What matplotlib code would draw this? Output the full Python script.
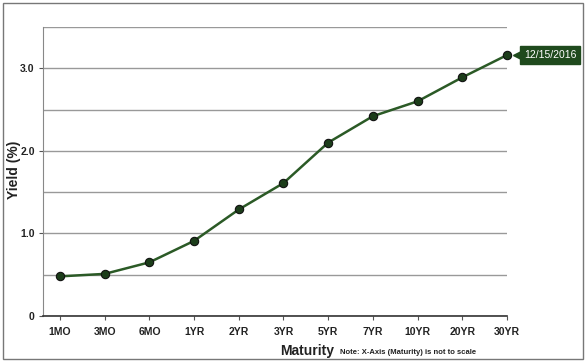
import matplotlib.pyplot as plt
import matplotlib.transforms as mtransforms
from matplotlib.patches import Rectangle
import numpy as np

plt.rcParams['font.family'] = ['Liberation Sans', 'DejaVu Sans']

MATURITIES = ['1MO', '3MO', '6MO', '1YR', '2YR', '3YR', '5YR', '7YR', '10YR', '20YR', '30YR']
YIELDS = [0.48, 0.51, 0.65, 0.91, 1.29, 1.61, 2.10, 2.42, 2.60, 2.89, 3.16]
DATE_LABEL = '12/15/2016'
Y_TICKS = [0, 1.0, 2.0, 3.0]
Y_TICK_LABELS = ['0', '1.0', '2.0', '3.0']

LINE_COLOR = '#2b5a26'
MARKER_COLOR = '#1c3d1a'
BOX_COLOR = '#1f4a1d'

fig = plt.figure(figsize=(5.87, 3.62), dpi=100)
ax = fig.add_axes([43/587, 46/362, (507-43)/587, (316-27)/362])

# outer border
fig.patches.append(Rectangle((3/587, 3/362), 580/587, 356/362, transform=fig.transFigure,
                             fill=False, edgecolor='#777777', linewidth=1))

xs = np.arange(len(MATURITIES))
ax.plot(xs, YIELDS, color=LINE_COLOR, linewidth=1.8, marker='o', markersize=6,
        markerfacecolor=MARKER_COLOR, markeredgecolor='#111111', markeredgewidth=0.8,
        zorder=3, clip_on=False)

ax.set_xlim(-0.38, 10)
ax.set_ylim(0, 3.5)
ax.set_xticks(xs)
ax.set_xticklabels(MATURITIES, fontsize=7.5, fontweight='bold', color='#222222')
ax.set_yticks(Y_TICKS)
ax.set_yticklabels(Y_TICK_LABELS, fontsize=7.5, fontweight='bold', color='#222222')
ax.set_yticks(np.arange(0.5, 3.6, 0.5), minor=True)
ax.yaxis.grid(True, which='both', color='#999999', linewidth=1)
ax.set_axisbelow(True)
ax.tick_params(axis='x', length=3, width=0.8, color='#555555', pad=5)
ax.tick_params(axis='y', which='major', length=3, width=0.8, color='#555555', pad=3)
ax.tick_params(axis='y', which='minor', length=0)

for s in ['top', 'right']:
    ax.spines[s].set_visible(False)
ax.spines['left'].set_color('#888888')
ax.spines['bottom'].set_color('#333333')
ax.spines['bottom'].set_linewidth(1.2)

fig.text(14/587, 1 - 170/362, 'Yield (%)', fontsize=10, fontweight='bold', color='#222222',
         rotation=90, ha='center', va='center')
fig.text(334/587, 1 - 351/362, 'Maturity', fontsize=10, fontweight='bold',
         color='#222222', ha='right', va='center')
fig.text(340/587, 1 - 353/362, 'Note: X-Axis (Maturity) is not to scale', fontsize=5.5,
         fontweight='bold', color='#222222', ha='left', va='center')

# date flag next to last point
off = mtransforms.ScaledTranslation(10/100, 0, fig.dpi_scale_trans)
ax.plot([xs[-1]], [YIELDS[-1]], marker='<', markersize=6, color=BOX_COLOR,
        transform=ax.transData + off, clip_on=False, zorder=4)
ax.annotate(DATE_LABEL, xy=(xs[-1], YIELDS[-1]), xytext=(17, 0), textcoords='offset pixels',
            fontsize=7.5, color='white', ha='left', va='center', annotation_clip=False,
            bbox=dict(boxstyle='square,pad=0.35', facecolor=BOX_COLOR, edgecolor=BOX_COLOR))

fig.savefig('out.png', dpi=100)
